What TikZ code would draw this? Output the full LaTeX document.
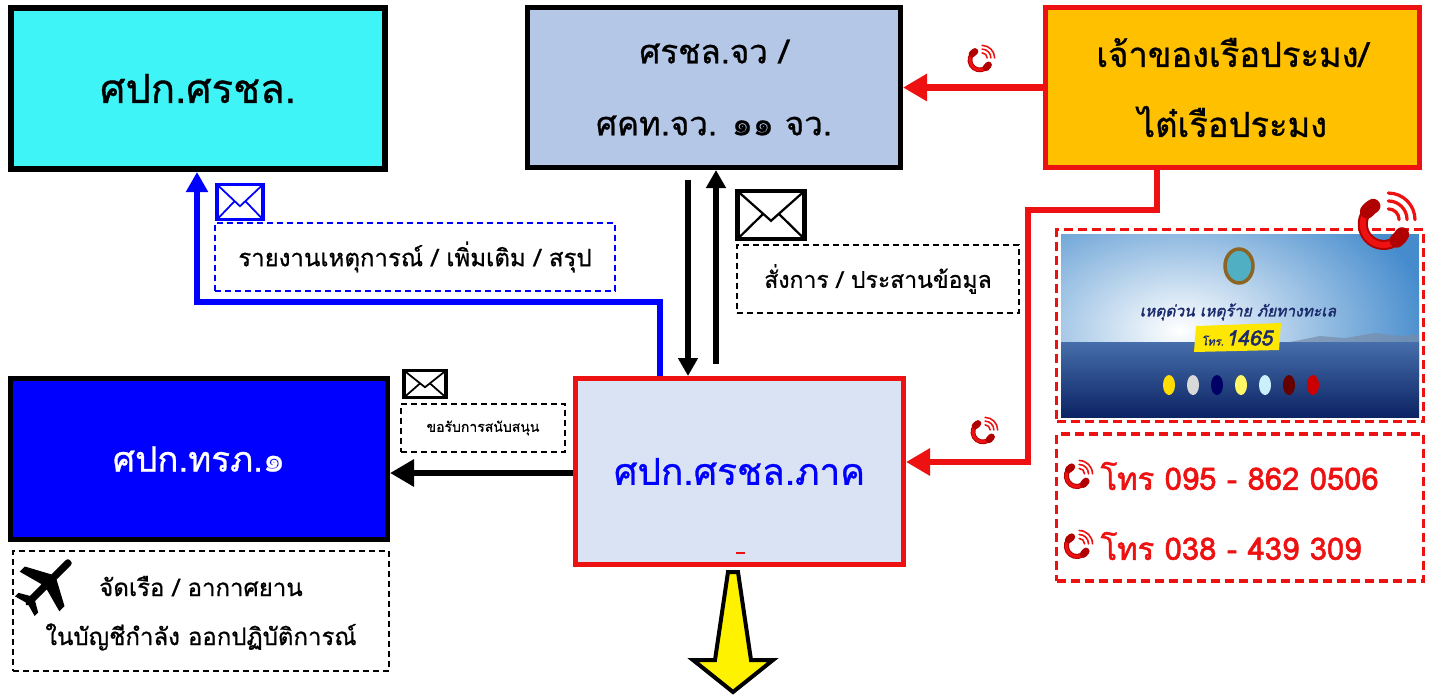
\documentclass[tikz,border=0pt]{standalone}
\usepackage{fontspec}
\setmainfont[Script=Thai]{Loma}
\newfontfamily\thaim[Script=Thai,FakeBold=0.8]{Loma}
\newfontfamily\thaib[Script=Thai,FakeBold=1.6]{Loma}
\usetikzlibrary{arrows.meta,calc}
\definecolor{cyanbox}{HTML}{3EF4F6}
\definecolor{steelbox}{HTML}{B4C7E7}
\definecolor{orangebox}{HTML}{FFC000}
\definecolor{palebox}{HTML}{DAE3F3}
\definecolor{myred}{HTML}{EE1111}
\definecolor{darkred}{HTML}{B00000}
\definecolor{myblue}{HTML}{0000FF}
\definecolor{navy}{HTML}{1B2A6B}
\definecolor{skytop}{RGB}{70,140,205}
\definecolor{hills}{RGB}{120,140,170}
\definecolor{seatop}{RGB}{70,110,170}
\definecolor{seabot}{RGB}{12,35,100}
\definecolor{ring}{RGB}{140,100,35}
\definecolor{teal2}{RGB}{80,175,195}
\newcommand\fsz[2]{\fontsize{#1}{#2}\selectfont}
% envelope icon: x y w h colour linewidth
\newcommand\envicon[6]{%
  \begin{scope}[shift={(#1,#2)}]
    \fill[white] (-#3/2,-#4/2) rectangle (#3/2,#4/2);
    \draw[#5, line width=#6, line join=miter] (-#3/2,-#4/2) rectangle (#3/2,#4/2);
    \draw[#5, line width=0.5*#6] (-#3/2,-#4/2) -- (0,0.12*#4) -- (#3/2,-#4/2);
    \draw[#5, line width=0.5*#6] (-#3/2,#4/2) -- (-0.12*#3,-0.02*#4);
    \draw[#5, line width=0.5*#6] (#3/2,#4/2) -- (0.12*#3,-0.02*#4);
  \end{scope}}
% phone icon: x y size
\newcommand\phoneicon[3]{%
  \begin{scope}[shift={(#1,#2)}, scale=#3, line cap=round]
    \draw[darkred, line width=#3*0.28pt] (-0.3,-0.5) arc[start angle=-120, end angle=-330, radius=0.58];
    \draw[myred, line width=#3*0.17pt] (-0.3,-0.5) arc[start angle=-120, end angle=-330, radius=0.58];
    \draw[darkred, line width=#3*0.40pt] (-0.3,-0.5) arc[start angle=-120, end angle=-142, radius=0.58];
    \draw[darkred, line width=#3*0.40pt] (0.5,0.29) arc[start angle=-330, end angle=-308, radius=0.58];
    \begin{scope}[shift={(0.12,-0.12)}, line width=#3*0.09pt, myred]
      \draw (0.3,0) arc[start angle=0, end angle=-90, radius=0.3];
      \draw (0.52,0) arc[start angle=0, end angle=-90, radius=0.52];
      \draw (0.74,0) arc[start angle=0, end angle=-90, radius=0.74];
    \end{scope}
  \end{scope}}
\tikzset{
  box/.style={draw, line width=5pt, inner sep=0pt, align=center},
  dbox/.style={draw, line width=2pt, dash pattern=on 6pt off 4pt, inner sep=0pt, align=center},
  rdbox/.style={draw=myred, line width=3.5pt, dash pattern=on 9pt off 5pt, inner sep=0pt},
  fatarrow/.style={line width=6.5pt, -{Triangle[length=24pt,width=26pt]}},
  midarrow/.style={line width=5.5pt, -{Triangle[length=18pt,width=19pt]}}
}
\begin{document}
\begin{tikzpicture}[x=1pt,y=-1pt]
\useasboundingbox[fill=white] (0,0) rectangle (1441,697);

% main boxes
\node[box, line width=6pt, fill=cyanbox, minimum width=374pt, minimum height=161pt, font=\thaim\fsz{40}{50}] (srchl) at (198,88.5) {ศปก.ศรชล.};
\node[box, fill=steelbox, minimum width=373pt, minimum height=160pt, font=\thaim\fsz{33}{72}] (jw) at (714,87.5) {ศรชล.จว /\\ศคท.จว. ๑๑ จว.};
\node[box, draw=myred, fill=orangebox, minimum width=374pt, minimum height=160pt, font=\thaim\fsz{34.5}{70}] (owner) at (1232.5,87.5) {เจ้าของเรือประมง/\\ไต๋เรือประมง};
\node[box, fill=myblue, text=white, minimum width=377pt, minimum height=161pt, font=\thaim\fsz{35}{40}] (trp) at (199,459) {ศปก.ทรภ.๑};
\node[box, draw=myred, fill=palebox, text=myblue, minimum width=328pt, minimum height=186pt, font=\thaim\fsz{37}{44}] (region) at (739.5,471.5) {ศปก.ศรชล.ภาค};
\fill[myred] (736,551.5) rectangle (745,554);

% asset box under trp
\node[dbox, minimum width=376pt, minimum height=120pt] (assets) at (201,611) {};
\node[font=\thaim\fsz{24}{28}] (assetA) at (201,586) {จัดเรือ / อากาศยาน};
\node[font=\thaim\fsz{24}{28}] (assetB) at (201,637) {ในบัญชีกำลัง ออกปฏิบัติการณ์};
% plane icon
\begin{scope}[shift={(47,584)}, rotate=45, scale=33]
  \fill[black] (1,0) .. controls (1,-0.1) and (0.95,-0.11) .. (0.85,-0.11) -- (0.3,-0.11) -- (-0.1,-0.85) -- (-0.32,-0.85) -- (-0.12,-0.11)
    -- (-0.62,-0.11) -- (-0.8,-0.42) -- (-0.95,-0.42) -- (-0.85,-0.06) -- (-0.9,0) -- (-0.85,0.06) -- (-0.95,0.42) -- (-0.8,0.42) -- (-0.62,0.11)
    -- (-0.12,0.11) -- (-0.32,0.85) -- (-0.1,0.85) -- (0.3,0.11) -- (0.85,0.11) .. controls (0.95,0.11) and (1,0.1) .. (1,0) -- cycle;
\end{scope}

% support request
\node[dbox, minimum width=164pt, minimum height=48pt, font=\thaim\fsz{14}{16}] (support) at (483,428) {ขอรับการสนับสนุน};
\envicon{425}{384}{42}{27}{black}{3.5pt}
\draw[fatarrow] (region.west |- 0,473) -- (trp.east |- 0,473);

% report to srchl (blue)
\node[dbox, draw=myblue, line width=2.5pt, minimum width=400pt, minimum height=68pt, font=\thaim\fsz{24}{26}] (report) at (415,257) {รายงานเหตุการณ์ / เพิ่มเติม / สรุป};
\envicon{240}{202}{46}{35}{myblue}{3.5pt}
\coordinate (bl1) at (660,302);
\coordinate (bl2) at (197,302);
\draw[myblue, line width=6.5pt, line join=miter, -{Triangle[length=20pt,width=21pt]}] (region.north -| bl1) -- (bl1) -- (bl2) -- (srchl.south -| bl2);

% command / coordinate (black vertical)
\draw[midarrow] (jw.south -| 688,0) ++(0,10) -- (region.north -| 688,0);
\draw[midarrow] (region.north -| 716,0) ++(0,-12) -- (jw.south -| 716,0);
\envicon{771}{215}{67}{48}{black}{4.5pt}
\node[dbox, minimum width=282pt, minimum height=68pt, font=\thaim\fsz{23}{26}] (command) at (878,279) {สั่งการ / ประสานข้อมูล};

% owner -> jw (red)
\draw[myred, line width=6.5pt, -{Triangle[length=24pt,width=26pt]}] (owner.west) -- (jw.east);
\phoneicon{980}{60}{17}

% owner -> region (red)
\coordinate (rl1) at (1157,210);
\coordinate (rl2) at (1028,210);
\coordinate (rl3) at (1028,462);
\draw[myred, line width=6.5pt, line join=miter, -{Triangle[length=24pt,width=26pt]}] (owner.south -| rl1) -- (rl1) -- (rl2) -- (rl3) -- (region.east |- rl3);
\phoneicon{983}{432}{17}

% hotline picture
\node[rdbox, minimum width=367pt, minimum height=192pt] (poster) at (1240,325.5) {};
\begin{scope}
  \clip (1061,234) rectangle (1419,417);
  \fill[skytop] (1061,234) rectangle (1419,342);
  \shade[inner color=white, outer color=skytop] (1180,330) ellipse [x radius=250, y radius=160];
  \fill[hills, opacity=0.7] (1290,342) -- (1320,336) -- (1345,338) -- (1375,333) -- (1400,336) -- (1419,334) -- (1419,342) -- cycle;
  \shade[top color=seatop, bottom color=seabot] (1061,342) rectangle (1419,417);
\end{scope}
\draw[ring, line width=3.5pt, fill=teal2] (1239,266) ellipse [x radius=14, y radius=17];
\node[text=navy, font=\thaib\itshape\fsz{15.5}{20}] (hotlineA) at (1238,312) {เหตุด่วน เหตุร้าย ภัยทางทะเล};
\fill[yellow!90!orange] (1196,326) -- (1281,323) -- (1279,350) -- (1194,352) -- cycle;
\node[text=navy, font=\thaib\itshape] (hotlineB) at (1237,338) {\fsz{11}{14}โทร.\,\fsz{21}{24}1465};
\foreach \lx/\lc in {1169/{yellow!80!orange},1193/{white!70!gray},1217/{black!60!blue},1241/{yellow!60!white},1265/{white!80!cyan},1289/{red!40!black},1313/{red!80!black}}
  \fill[\lc] (\lx,385) ellipse [x radius=6, y radius=10];
\phoneicon{1384}{224}{36}

% phone numbers
\node[rdbox, minimum width=367pt, minimum height=147pt] (phones) at (1240,507.5) {};
\phoneicon{1077}{476}{18}
\phoneicon{1077}{546}{18}
\node[text=myred, anchor=west, font=\thaib\fsz{31}{34}] (tel1) at (1097,476) {โทร 095 - 862 0506};
\node[text=myred, anchor=west, font=\thaib\fsz{31}{34}] (tel2) at (1097,546) {โทร 038 - 439 309};

% yellow down arrow
\draw[fill=yellow, line width=4pt, line join=miter] (728,572) -- (738,572) -- (751,660) -- (773,660) -- (733,692) -- (693,660) -- (715,660) -- cycle;
\end{tikzpicture}
\end{document}
